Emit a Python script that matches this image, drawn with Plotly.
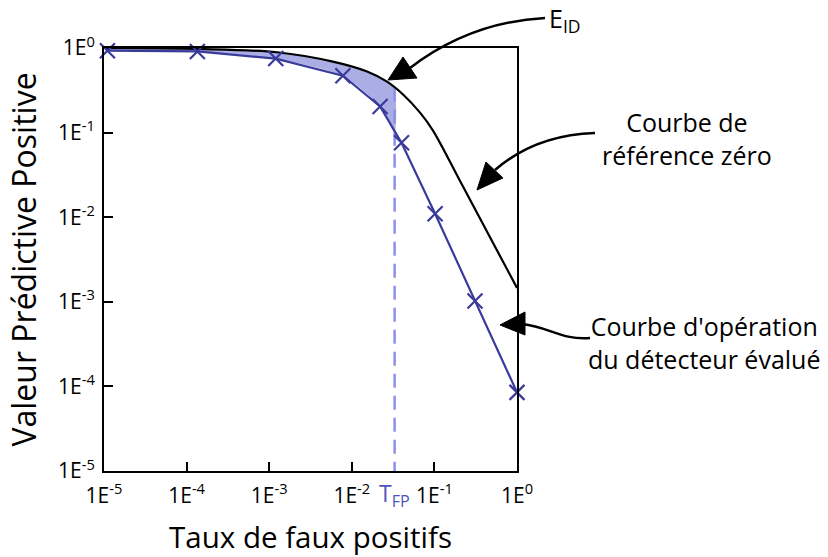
import numpy as np
import plotly.graph_objects as go

# ---------------- data ----------------
fpr_op = [1.1e-5, 1.35e-4, 1.2e-3, 7.8e-3, 2.2e-2, 4.0e-2, 0.102, 0.31, 1.0]
ppv_op = [0.93, 0.91, 0.75, 0.47, 0.204, 0.076, 0.011, 0.00102, 8.5e-5]

fpr_ref = [1e-5, 1.45e-4, 1.24e-3, 5.9e-3, 1.53e-2, 2.67e-2, 4.17e-2, 6.7e-2, 9.62e-2, 0.222, 1.0]
ppv_ref = [1.0, 0.973, 0.89, 0.69, 0.527, 0.40, 0.282, 0.172, 0.1057, 0.023, 0.00146]

t_fp = 0.033
ppv_ref_at_tfp = 0.338
ppv_op_at_tfp = 0.10

tick_vals = [1e-5, 1e-4, 1e-3, 1e-2, 1e-1, 1e0]
tick_text = ["1E<sup>-5</sup>", "1E<sup>-4</sup>", "1E<sup>-3</sup>",
             "1E<sup>-2</sup>", "1E<sup>-1</sup>", "1E<sup>0</sup>"]

x_title = "Taux de faux positifs"
y_title = "Valeur Prédictive Positive"
label_eid = "E<sub>ID</sub>"
label_ref = "Courbe de<br>référence zéro"
label_op = "Courbe d'opération<br>du détecteur évalué"
label_tfp = "T<sub>FP</sub>"

# ---------------- styling ----------------
W, H = 828, 557
PL, PR, PT, PB = 104, 517, 48, 471   # plot area in pixels
FONT = "Open Sans"
BLUE = "rgb(58,58,155)"
FILL = "rgba(165,170,228,0.95)"
DASH = "rgb(140,145,235)"

def pp(px, py):
    return f"{(px - PL) / (PR - PL):.4f},{(PB - py) / (PB - PT):.4f}"

fig = go.Figure()

# shaded area E_ID between reference curve and operating curve up to T_FP
fx = [f for f in fpr_ref if f < t_fp] + [t_fp, t_fp] + [f for f in reversed(fpr_op) if f < t_fp]
fy = ([v for f, v in zip(fpr_ref, ppv_ref) if f < t_fp] + [ppv_ref_at_tfp, ppv_op_at_tfp]
      + [v for f, v in zip(reversed(fpr_op), reversed(ppv_op)) if f < t_fp])
fig.add_trace(go.Scatter(x=fx, y=fy, mode="lines", fill="toself", fillcolor=FILL,
                         line=dict(width=0, shape="spline", smoothing=0.6),
                         hoverinfo="skip", showlegend=False))

# dashed T_FP line
fig.add_trace(go.Scatter(x=[t_fp, t_fp], y=[ppv_ref_at_tfp, 1e-5], mode="lines",
                         line=dict(color=DASH, width=2.5, dash="14px,8px"),
                         showlegend=False, cliponaxis=False))

# reference curve
fig.add_trace(go.Scatter(x=fpr_ref, y=ppv_ref, mode="lines",
                         line=dict(color="black", width=2.2, shape="spline", smoothing=0.9),
                         showlegend=False, cliponaxis=False))

# operating curve
fig.add_trace(go.Scatter(x=fpr_op, y=ppv_op, mode="lines+markers",
                         line=dict(color=BLUE, width=2.2),
                         marker=dict(symbol="x-thin", size=15, line=dict(color=BLUE, width=2.2)),
                         showlegend=False, cliponaxis=False))

axis_common = dict(type="log", showgrid=False, zeroline=False, showline=True,
                   linecolor="black", linewidth=2, mirror=True,
                   ticks="inside", ticklen=9, tickwidth=2, tickcolor="black",
                   tickvals=tick_vals, ticktext=tick_text,
                   tickfont=dict(family=FONT, size=21, color="black"))

fig.update_layout(
    width=W, height=H,
    margin=dict(l=PL, r=W - PR, t=PT, b=H - PB, autoexpand=False),
    paper_bgcolor="white", plot_bgcolor="white",
    font=dict(family=FONT, color="black"),
    xaxis=dict(range=[-5, 0], ticklabelstandoff=5,
               title=dict(text=x_title, font=dict(size=29.5), standoff=22),
               **axis_common),
    yaxis=dict(range=[-5, 0], ticklabelstandoff=3,
               title=dict(text=y_title, font=dict(size=32), standoff=12),
               **axis_common),
)

# arrows (curved lines + filled heads)
arrow_lines = [
    f"M {pp(545, 18)} Q {pp(470, 22)} {pp(410, 68)}",
    f"M {pp(595, 133)} Q {pp(535, 135)} {pp(495, 170)}",
    f"M {pp(590, 338)} C {pp(560, 340)} {pp(550, 327)} {pp(522, 324)}",
]
arrow_heads = [
    f"M {pp(388, 80)} L {pp(403, 57)} L {pp(417, 78)} Z",
    f"M {pp(477, 190)} L {pp(486, 162)} L {pp(503, 178)} Z",
    f"M {pp(500, 325)} L {pp(525, 312)} L {pp(525, 335)} Z",
]
for p in arrow_lines:
    fig.add_shape(type="path", path=p, xref="paper", yref="paper",
                  line=dict(color="black", width=2.5))
for p in arrow_heads:
    fig.add_shape(type="path", path=p, xref="paper", yref="paper",
                  line=dict(color="black", width=1), fillcolor="black")

def ya(py):
    return (PB - py) / (PB - PT)

def xa(px):
    return (px - PL) / (PR - PL)

fig.add_annotation(text=label_eid, x=xa(547), y=ya(20), xref="paper", yref="paper",
                   xanchor="left", yanchor="middle", showarrow=False,
                   font=dict(size=25, family=FONT, color="black"))
fig.add_annotation(text=label_ref, x=xa(687), y=ya(138), xref="paper", yref="paper",
                   xanchor="center", yanchor="middle", showarrow=False,
                   font=dict(size=25, family=FONT, color="black"))
fig.add_annotation(text=label_op, x=xa(704), y=ya(342), xref="paper", yref="paper",
                   xanchor="center", yanchor="middle", showarrow=False,
                   font=dict(size=25, family=FONT, color="black"))
fig.add_annotation(text=label_tfp, x=np.log10(t_fp), y=ya(494), xref="x", yref="paper",
                   xanchor="center", yanchor="middle", showarrow=False,
                   font=dict(size=23, family=FONT, color="rgb(80,85,190)"))

fig.write_html("out.html", config={"displayModeBar": False},
               post_script="document.body.style.margin='0';")
